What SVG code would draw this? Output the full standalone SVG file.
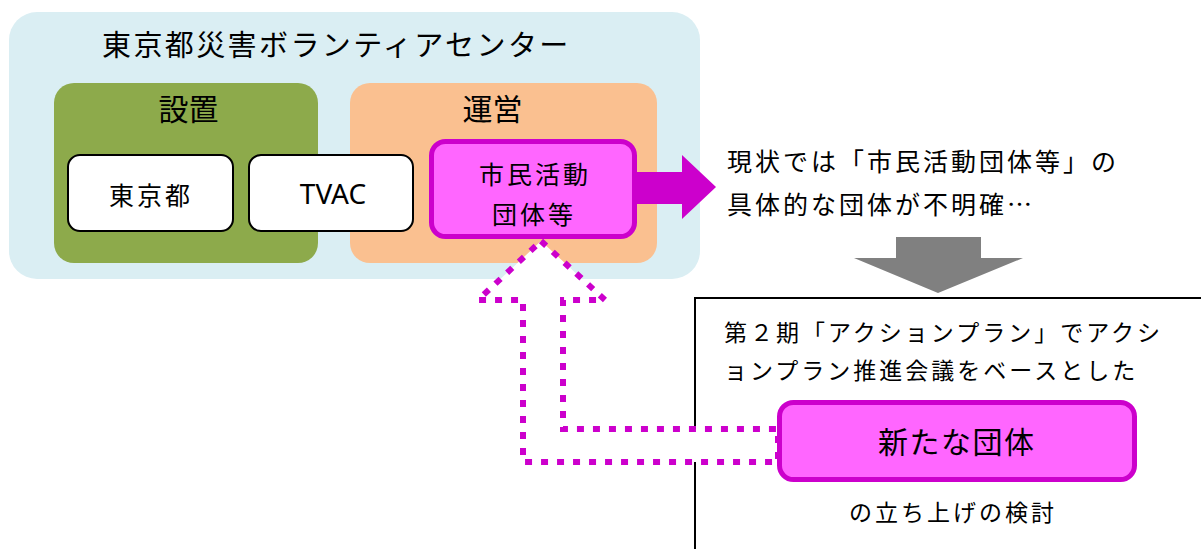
<svg xmlns="http://www.w3.org/2000/svg" width="1201" height="549" viewBox="0 0 1201 549">
<style>
text{font-family:"Noto Sans CJK JP","Noto Sans",sans-serif;fill:#000}
.white{fill:#fff;stroke:#000;stroke-width:2}
.pink{fill:#FF66FF;stroke:#CC00CC;stroke-width:5}
.t25{font-size:25px;letter-spacing:3px}
.t23{font-size:23px;letter-spacing:3px}
</style>
<rect width="1201" height="549" fill="#fff"/>
<g id="center">
<rect x="9" y="12" width="691" height="267" rx="28" fill="#DAEEF3"/>
<text x="102" y="56" style="font-size:29px;letter-spacing:2.4px">東京都災害ボランティアセンター</text>
</g>
<g id="setup">
<rect x="54" y="83" width="264" height="180" rx="20" fill="#8DAA4B"/>
<text x="188.5" y="120" text-anchor="middle" style="font-size:30px">設置</text>
</g>
<g id="operation">
<rect x="350" y="83" width="307" height="180" rx="20" fill="#FAC090"/>
<text x="492.5" y="120" text-anchor="middle" style="font-size:30px">運営</text>
</g>
<g id="frame">
<rect x="695" y="298" width="530" height="270" fill="none" stroke="#000" stroke-width="2"/>
</g>
<g id="connectors">
<polygon points="636,172 682,172 682,155 716,187 682,219 682,204 636,204" fill="#CC00CC"/>
<polygon points="896,237 981,237 981,258 1023,258 938,293 854,258 896,258" fill="#808080"/>
<polygon points="541,241 605,300 563,300 563,429 778,429 778,462 523,462 523,300 478,300" fill="#fff" stroke="#CC00CC" stroke-width="6" stroke-dasharray="7 9"/>
</g>
<g id="tokyo">
<rect class="white" x="68" y="155" width="165" height="76" rx="12"/>
<text class="t25" x="109" y="204.5">東京都</text>
</g>
<g id="tvac">
<rect class="white" x="249" y="155" width="164" height="76" rx="12"/>
<text x="333" y="204" text-anchor="middle" style="font-family:'Noto Sans',sans-serif;font-size:28px">TVAC</text>
</g>
<g id="civic">
<rect class="pink" x="431.5" y="141.5" width="203" height="95" rx="14"/>
<text class="t25" x="479" y="183.5">市民活動</text>
<text class="t25" x="492" y="223.5">団体等</text>
</g>
<g id="status">
<text class="t25" x="727" y="171">現状では「市民活動団体等」の</text>
<text class="t25" x="727" y="214">具体的な団体が不明確…</text>
</g>
<g id="plan">
<text class="t23" x="724" y="341">第２期「アクションプラン」でアクシ</text>
<text class="t23" x="724" y="379">ョンプラン推進会議をベースとした</text>
</g>
<g id="new-group">
<rect class="pink" x="779.5" y="402.5" width="355" height="77" rx="14"/>
<text x="878" y="453" style="font-size:30px;letter-spacing:1.5px">新たな団体</text>
</g>
<g id="launch">
<text class="t23" x="849" y="521">の立ち上げの検討</text>
</g>
</svg>
